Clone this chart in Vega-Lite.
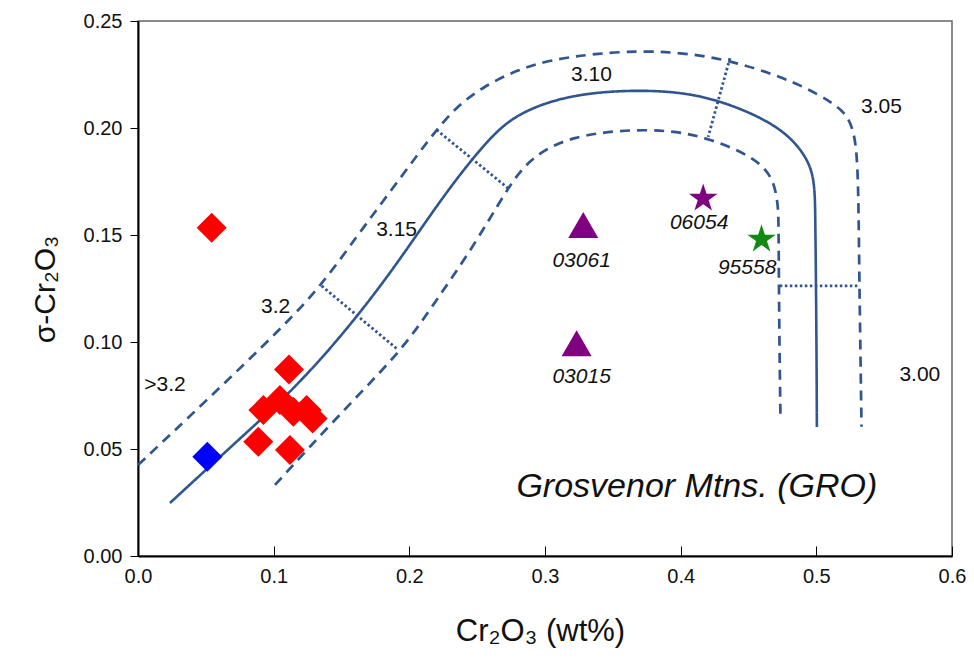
{
  "$schema": "https://vega.github.io/schema/vega-lite/v6.json",
  "width": 814,
  "height": 535,
  "autosize": {"type": "none"},
  "padding": {"left": 138, "top": 21, "right": 22, "bottom": 105},
  "background": "white",
  "config": {
    "view": {"stroke": "#666666", "strokeWidth": 1.5},
    "font": "Liberation Sans",
    "axis": {"grid": false, "domainColor": "#000000", "domainWidth": 2, "tickColor": "#000000", "tickWidth": 1, "labelColor": "#111111", "titleColor": "#111111", "labelFont": "Liberation Sans", "titleFont": "Liberation Sans", "labelFontSize": 20, "titleFontWeight": "normal"}
  },
  "datasets": {
    "curves": [
      {"c": "solid", "s": "solid", "i": 1, "x": 0.0236, "y": 0.0248},
      {"c": "solid", "s": "solid", "i": 2, "x": 0.0604, "y": 0.0463},
      {"c": "solid", "s": "solid", "i": 3, "x": 0.0877, "y": 0.0621},
      {"c": "solid", "s": "solid", "i": 4, "x": 0.1096, "y": 0.075},
      {"c": "solid", "s": "solid", "i": 5, "x": 0.1366, "y": 0.0931},
      {"c": "solid", "s": "solid", "i": 6, "x": 0.1623, "y": 0.1126},
      {"c": "solid", "s": "solid", "i": 7, "x": 0.1857, "y": 0.1321},
      {"c": "solid", "s": "solid", "i": 8, "x": 0.2054, "y": 0.15},
      {"c": "solid", "s": "solid", "i": 9, "x": 0.225, "y": 0.1679},
      {"c": "solid", "s": "solid", "i": 10, "x": 0.2447, "y": 0.1843},
      {"c": "solid", "s": "solid", "i": 11, "x": 0.2668, "y": 0.2006},
      {"c": "solid", "s": "solid", "i": 12, "x": 0.2864, "y": 0.2084},
      {"c": "solid", "s": "solid", "i": 13, "x": 0.311, "y": 0.2139},
      {"c": "solid", "s": "solid", "i": 14, "x": 0.3405, "y": 0.217},
      {"c": "solid", "s": "solid", "i": 15, "x": 0.3795, "y": 0.2178},
      {"c": "solid", "s": "solid", "i": 16, "x": 0.4164, "y": 0.2154},
      {"c": "solid", "s": "solid", "i": 17, "x": 0.4532, "y": 0.207},
      {"c": "solid", "s": "solid", "i": 18, "x": 0.4783, "y": 0.1977},
      {"c": "solid", "s": "solid", "i": 19, "x": 0.493, "y": 0.1864},
      {"c": "solid", "s": "solid", "i": 20, "x": 0.4989, "y": 0.1757},
      {"c": "solid", "s": "solid", "i": 21, "x": 0.4992, "y": 0.157},
      {"c": "solid", "s": "solid", "i": 22, "x": 0.4996, "y": 0.1383},
      {"c": "solid", "s": "solid", "i": 23, "x": 0.5002, "y": 0.0916},
      {"c": "solid", "s": "solid", "i": 24, "x": 0.5004, "y": 0.0603},
      {"c": "upper", "s": "dashed", "i": 1, "x": 0.0, "y": 0.0425},
      {"c": "upper", "s": "dashed", "i": 2, "x": 0.0494, "y": 0.072},
      {"c": "upper", "s": "dashed", "i": 3, "x": 0.1071, "y": 0.1072},
      {"c": "upper", "s": "dashed", "i": 4, "x": 0.1354, "y": 0.1266},
      {"c": "upper", "s": "dashed", "i": 5, "x": 0.1611, "y": 0.1492},
      {"c": "upper", "s": "dashed", "i": 6, "x": 0.1832, "y": 0.168},
      {"c": "upper", "s": "dashed", "i": 7, "x": 0.2078, "y": 0.189},
      {"c": "upper", "s": "dashed", "i": 8, "x": 0.2201, "y": 0.1991},
      {"c": "upper", "s": "dashed", "i": 9, "x": 0.2348, "y": 0.21},
      {"c": "upper", "s": "dashed", "i": 10, "x": 0.2545, "y": 0.2193},
      {"c": "upper", "s": "dashed", "i": 11, "x": 0.2791, "y": 0.2271},
      {"c": "upper", "s": "dashed", "i": 12, "x": 0.3036, "y": 0.2318},
      {"c": "upper", "s": "dashed", "i": 13, "x": 0.338, "y": 0.2349},
      {"c": "upper", "s": "dashed", "i": 14, "x": 0.3797, "y": 0.2364},
      {"c": "upper", "s": "dashed", "i": 15, "x": 0.4289, "y": 0.2333},
      {"c": "upper", "s": "dashed", "i": 16, "x": 0.478, "y": 0.2232},
      {"c": "upper", "s": "dashed", "i": 17, "x": 0.5026, "y": 0.2154},
      {"c": "upper", "s": "dashed", "i": 18, "x": 0.5198, "y": 0.2084},
      {"c": "upper", "s": "dashed", "i": 19, "x": 0.5272, "y": 0.2006},
      {"c": "upper", "s": "dashed", "i": 20, "x": 0.5308, "y": 0.185},
      {"c": "upper", "s": "dashed", "i": 21, "x": 0.5315, "y": 0.1383},
      {"c": "upper", "s": "dashed", "i": 22, "x": 0.5326, "y": 0.0916},
      {"c": "upper", "s": "dashed", "i": 23, "x": 0.5333, "y": 0.0604},
      {"c": "lower", "s": "dashed", "i": 1, "x": 0.101, "y": 0.0332},
      {"c": "lower", "s": "dashed", "i": 2, "x": 0.1267, "y": 0.0511},
      {"c": "lower", "s": "dashed", "i": 3, "x": 0.1611, "y": 0.0744},
      {"c": "lower", "s": "dashed", "i": 4, "x": 0.1955, "y": 0.097},
      {"c": "lower", "s": "dashed", "i": 5, "x": 0.2201, "y": 0.1196},
      {"c": "lower", "s": "dashed", "i": 6, "x": 0.2471, "y": 0.1445},
      {"c": "lower", "s": "dashed", "i": 7, "x": 0.2717, "y": 0.171},
      {"c": "lower", "s": "dashed", "i": 8, "x": 0.284, "y": 0.1819},
      {"c": "lower", "s": "dashed", "i": 9, "x": 0.2987, "y": 0.1897},
      {"c": "lower", "s": "dashed", "i": 10, "x": 0.3208, "y": 0.1959},
      {"c": "lower", "s": "dashed", "i": 11, "x": 0.3552, "y": 0.1991},
      {"c": "lower", "s": "dashed", "i": 12, "x": 0.392, "y": 0.1991},
      {"c": "lower", "s": "dashed", "i": 13, "x": 0.4215, "y": 0.1952},
      {"c": "lower", "s": "dashed", "i": 14, "x": 0.4534, "y": 0.1866},
      {"c": "lower", "s": "dashed", "i": 15, "x": 0.4682, "y": 0.1773},
      {"c": "lower", "s": "dashed", "i": 16, "x": 0.4719, "y": 0.164},
      {"c": "lower", "s": "dashed", "i": 17, "x": 0.4722, "y": 0.1539},
      {"c": "lower", "s": "dashed", "i": 18, "x": 0.4726, "y": 0.1072},
      {"c": "lower", "s": "dashed", "i": 19, "x": 0.4736, "y": 0.0636},
      {"c": "d1", "s": "dotted", "i": 1, "x": 0.1354, "y": 0.1262},
      {"c": "d1", "s": "dotted", "i": 2, "x": 0.1918, "y": 0.0963},
      {"c": "d2", "s": "dotted", "i": 1, "x": 0.2201, "y": 0.1991},
      {"c": "d2", "s": "dotted", "i": 2, "x": 0.2729, "y": 0.1718},
      {"c": "d3", "s": "dotted", "i": 1, "x": 0.4363, "y": 0.2326},
      {"c": "d3", "s": "dotted", "i": 2, "x": 0.4203, "y": 0.1959},
      {"c": "d4", "s": "dotted", "i": 1, "x": 0.4731, "y": 0.1262},
      {"c": "d4", "s": "dotted", "i": 2, "x": 0.5321, "y": 0.1262}
    ],
    "points": [
      {"g": "red", "x": 0.0543, "y": 0.1534},
      {"g": "red", "x": 0.1113, "y": 0.0872},
      {"g": "red", "x": 0.0924, "y": 0.0682},
      {"g": "red", "x": 0.1046, "y": 0.0729},
      {"g": "red", "x": 0.1145, "y": 0.0674},
      {"g": "red", "x": 0.1243, "y": 0.0682},
      {"g": "red", "x": 0.1287, "y": 0.0643},
      {"g": "red", "x": 0.0887, "y": 0.0534},
      {"g": "red", "x": 0.112, "y": 0.0495},
      {"g": "blue", "x": 0.0511, "y": 0.0464},
      {"g": "tri", "x": 0.3282, "y": 0.1547},
      {"g": "tri", "x": 0.3233, "y": 0.0994},
      {"g": "star", "x": 0.4166, "y": 0.1671},
      {"g": "gstar", "x": 0.4596, "y": 0.148}
    ],
    "labels": [
      {"k": "contour", "t": "3.10", "x": 0.3343, "y": 0.2248},
      {"k": "contour", "t": "3.05", "x": 0.548, "y": 0.21},
      {"k": "contour", "t": "3.15", "x": 0.1906, "y": 0.1523},
      {"k": "contour", "t": "3.2", "x": 0.1015, "y": 0.1165},
      {"k": "contour", "t": ">3.2", "x": 0.0199, "y": 0.0799},
      {"k": "contour", "t": "3.00", "x": 0.5763, "y": 0.0846},
      {"k": "sample", "t": "03061", "x": 0.327, "y": 0.138},
      {"k": "sample", "t": "03015", "x": 0.327, "y": 0.0838},
      {"k": "sample", "t": "06054", "x": 0.4136, "y": 0.1555},
      {"k": "sample", "t": "95558", "x": 0.449, "y": 0.1344},
      {"k": "site", "t": "Grosvenor Mtns. (GRO)", "x": 0.4119, "y": 0.0322}
    ]
  },
  "encoding": {
    "x": {"field": "x", "type": "quantitative", "scale": {"domain": [0, 0.6], "nice": false, "zero": false},
      "axis": {"title": "Cr₂O₃ (wt%)", "titleFontSize": 31, "values": [0, 0.1, 0.2, 0.3, 0.4, 0.5, 0.6], "format": ".1f", "tickSize": -10, "labelPadding": 20, "titleX": 402, "titleY": 75, "titleBaseline": "middle", "labelFlush": false}},
    "y": {"field": "y", "type": "quantitative", "scale": {"domain": [0, 0.25], "nice": false, "zero": false},
      "axis": {"title": "σ-Cr₂O₃", "titleFontSize": 30, "values": [0, 0.05, 0.1, 0.15, 0.2, 0.25], "format": ".2f", "tickSize": 8, "labelPadding": 8, "titleX": -93, "titleY": 268, "titleBaseline": "middle", "titleAngle": -90, "titleAlign": "center", "labelFlush": false}}
  },
  "layer": [
    {
      "data": {"name": "curves"},
      "mark": {"type": "line", "interpolate": "basis", "color": "#30558F", "strokeCap": "butt"},
      "encoding": {
        "detail": {"field": "c", "type": "nominal"},
        "order": {"field": "i", "type": "quantitative"},
        "strokeDash": {"field": "s", "type": "nominal", "scale": {"domain": ["solid", "dashed", "dotted"], "range": [[1, 0], [10, 7], [2.5, 2.5]]}, "legend": null},
        "strokeWidth": {"field": "s", "type": "nominal", "scale": {"domain": ["solid", "dashed", "dotted"], "range": [2.6, 2.8, 2.4]}, "legend": null}
      }
    },
    {
      "data": {"name": "points"},
      "mark": {"type": "point", "filled": true, "opacity": 1, "strokeWidth": 0},
      "encoding": {
        "shape": {"field": "g", "type": "nominal", "scale": {"domain": ["red", "blue", "tri", "star", "gstar"], "range": ["diamond", "diamond", "triangle-up", "M0,-1L0.225,-0.309L0.951,-0.309L0.363,0.118L0.588,0.809L0,0.382L-0.588,0.809L-0.363,0.118L-0.951,-0.309L-0.225,-0.309Z", "M0,-1L0.225,-0.309L0.951,-0.309L0.363,0.118L0.588,0.809L0,0.382L-0.588,0.809L-0.363,0.118L-0.951,-0.309L-0.225,-0.309Z"]}, "legend": null},
        "color": {"field": "g", "type": "nominal", "scale": {"domain": ["red", "blue", "tri", "star", "gstar"], "range": ["#FF0000", "#0000FF", "#800080", "#800080", "#138A13"]}, "legend": null},
        "size": {"field": "g", "type": "ordinal", "scale": {"domain": ["red", "blue", "tri", "star", "gstar"], "range": [900, 900, 800, 820, 820]}, "legend": null}
      }
    },
    {
      "data": {"name": "labels"},
      "transform": [{"filter": "datum.k === 'contour'"}],
      "mark": {"type": "text", "fontSize": 21, "color": "#111111", "align": "center", "baseline": "middle"},
      "encoding": {"text": {"field": "t"}}
    },
    {
      "data": {"name": "labels"},
      "transform": [{"filter": "datum.k === 'sample'"}],
      "mark": {"type": "text", "fontSize": 21, "fontStyle": "italic", "color": "#111111", "align": "center", "baseline": "middle"},
      "encoding": {"text": {"field": "t"}}
    },
    {
      "data": {"name": "labels"},
      "transform": [{"filter": "datum.k === 'site'"}],
      "mark": {"type": "text", "fontSize": 34, "fontStyle": "italic", "color": "#111111", "align": "center", "baseline": "middle"},
      "encoding": {"text": {"field": "t"}}
    }
  ]
}
